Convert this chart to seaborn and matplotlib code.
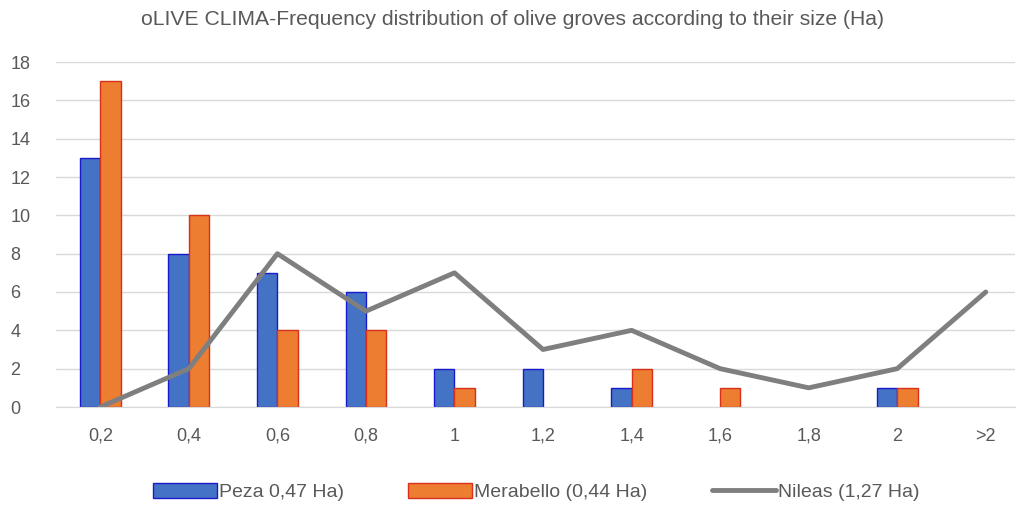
import numpy as np
import pandas as pd
import matplotlib
matplotlib.use('Agg')
import matplotlib.pyplot as plt
import seaborn as sns
from matplotlib.patches import Patch
from matplotlib.lines import Line2D

sns.set_style('white')
plt.rcParams['font.family'] = ['Liberation Sans', 'DejaVu Sans']

# data
sizes = ['0,2', '0,4', '0,6', '0,8', '1', '1,2', '1,4', '1,6', '1,8', '2', '>2']
peza = [13, 8, 7, 6, 2, 2, 1, 0, 0, 1, 0]
merabello = [17, 10, 4, 4, 1, 0, 2, 1, 0, 1, 0]
nileas = [0, 2, 8, 5, 7, 3, 4, 2, 1, 2, 6]
series_names = ['Peza 0,47 Ha)', 'Merabello (0,44 Ha)', 'Nileas (1,27 Ha)']

df = pd.DataFrame({
    'size': sizes * 2,
    'count': peza + merabello,
    'area': [series_names[0]] * len(sizes) + [series_names[1]] * len(sizes),
})

fig = plt.figure(figsize=(10.25, 5.08), dpi=100)
ax = fig.add_axes([56 / 1025, 101 / 508, 959 / 1025, 345 / 508])

bar_cols = {series_names[0]: '#4472C4', series_names[1]: '#ED7D31'}
sns.barplot(data=df, x='size', y='count', hue='area', order=sizes,
            palette=bar_cols, width=0.46, ax=ax, legend=False, saturation=1)
edge_cols = ['#1A1ACC'] * len(sizes) + ['#D8301A'] * len(sizes)
for patch, ec in zip(ax.patches, edge_cols):
    patch.set_edgecolor(ec)
    patch.set_linewidth(1.0 if patch.get_height() > 0 else 0)

sns.lineplot(x=np.arange(len(sizes)), y=nileas, color='#7F7F7F',
             linewidth=3.5, ax=ax)

ax.set_xlim(-0.5, 10.33)
ax.set_ylim(0, 18)
ax.set_yticks(range(0, 19, 2))
ax.yaxis.grid(True, color='#D9D9D9', linewidth=1)
ax.set_axisbelow(True)
for s in ['top', 'right', 'left']:
    ax.spines[s].set_visible(False)
ax.spines['bottom'].set_color('#D9D9D9')
ax.tick_params(axis='both', length=0, labelsize=13, colors='#595959')
ax.tick_params(axis='x', pad=15)
ax.tick_params(axis='y', pad=33)
for lbl in ax.get_yticklabels():
    lbl.set_horizontalalignment('left')
ax.set_xlabel('')
ax.set_ylabel('')

fig.suptitle('oLIVE CLIMA-Frequency distribution of olive groves according to their size (Ha)',
             y=0.98, fontsize=15.2, color='#595959')

handles = [
    Patch(facecolor='#4472C4', edgecolor='#1A1ACC', label=series_names[0]),
    Patch(facecolor='#ED7D31', edgecolor='#D8301A', label=series_names[1]),
    Line2D([0], [0], color='#7F7F7F', linewidth=3.5, label=series_names[2]),
]
leg = fig.legend(handles=handles, loc='center', bbox_to_anchor=(0.523, 0.031),
                 ncol=3, frameon=False, fontsize=14, handlelength=3.3,
                 handleheight=0.8, columnspacing=3.3, handletextpad=0.1)
for t in leg.get_texts():
    t.set_color('#595959')

fig.savefig('out.png', dpi=100)
